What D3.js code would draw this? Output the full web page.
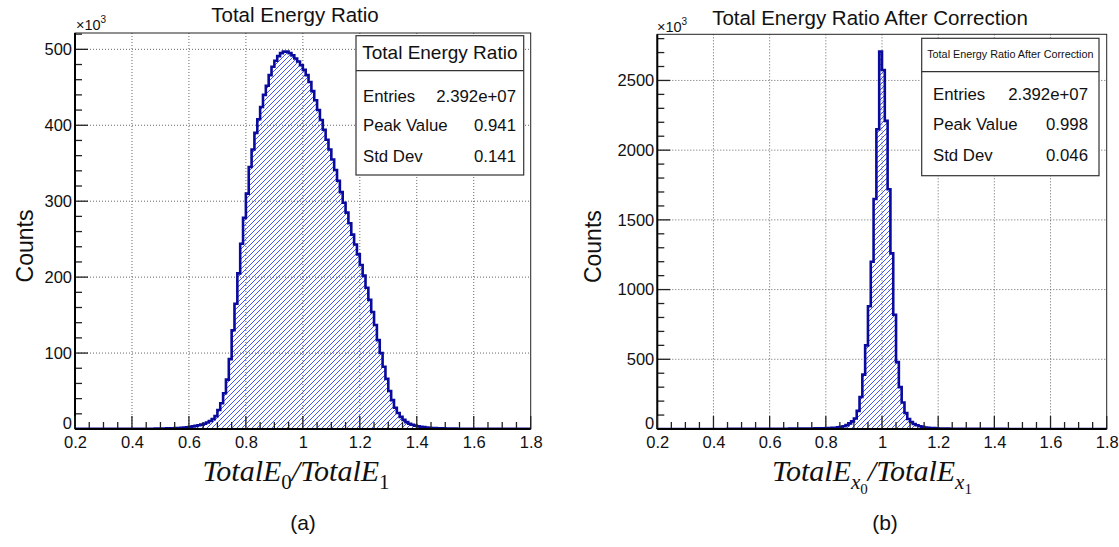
<!DOCTYPE html>
<html><head><meta charset="utf-8">
<script src="https://cdn.jsdelivr.net/npm/d3@7"></script>
<style>body{margin:0;background:#fff}svg{display:block}</style>
</head><body>
<svg id="c" width="1119" height="547"></svg>
<script>
// ---------------- data ----------------
const xMin = 0.2, xMax = 1.8;            // histogram range (160 bins of 0.01)
// counts in units of 10^3, bins from 0.20 to 1.80
const countsA = [
  0.1,0.1,0.1,0.1,0.1,0.1,0.1,0.1,0.1,0.1,
  0.1,0.1,0.15,0.15,0.15,0.2,0.2,0.2,0.2,0.25,
  0.25,0.3,0.3,0.3,0.35,0.35,0.4,0.4,0.45,0.5,
  0.6,0.7,0.8,0.9,1.0,1.2,1.4,1.7,2.0,2.4,
  2.9,3.4,4.1,4.9,5.8,7.0,8.5,10.5,13,17,
  25,34,47,65,92,130,165,205,244,278,
  310,345,368,390,408,424,440,452,466,477,
  485,491,495,497,497,495,492,488,484,479,
  473,466,457,445,433,420,407,394,381,368,
  355,341,327,312,298,285,271,256,243,230,
  216,202,186,170,154,137,117,100,82,66,
  50,38,28,21,16,12,9,7,5.5,4.5,
  3.7,3.0,2.5,2.0,1.7,1.4,1.2,1.0,0.9,0.8,
  0.7,0.6,0.5,0.45,0.4,0.35,0.3,0.3,0.25,0.25,
  0.2,0.2,0.2,0.15,0.15,0.15,0.1,0.1,0.1,0.1,
  0.1,0.1,0.1,0.1,0.1,0.1,0.1,0.1,0.1,0.1
];
const countsB = [
  0.2,0.2,0.2,0.2,0.2,0.2,0.2,0.2,0.2,0.2,
  0.2,0.2,0.25,0.25,0.25,0.3,0.3,0.3,0.35,0.35,
  0.4,0.4,0.45,0.5,0.5,0.55,0.6,0.65,0.7,0.75,
  0.8,0.85,0.9,1.0,1.05,1.1,1.2,1.3,1.4,1.5,
  1.6,1.7,1.8,1.9,2.0,2.1,2.2,2.4,2.5,2.7,
  2.9,3.1,3.3,3.5,3.7,4.0,4.3,4.6,5.0,5.4,
  6,7,8,9.5,12,15,20,28,40,55,
  75,130,230,390,600,880,1200,1650,2150,2707,
  2575,2210,1720,1260,820,480,300,190,115,72,
  50,36,27,20,15,11,9,7,6,5,
  3.8,3.3,2.9,2.6,2.3,2.1,1.9,1.7,1.6,1.5,
  1.4,1.3,1.2,1.1,1.0,0.95,0.9,0.85,0.8,0.75,
  0.7,0.65,0.6,0.55,0.5,0.5,0.45,0.45,0.4,0.4,
  0.35,0.35,0.35,0.35,0.35,0.3,0.3,0.3,0.3,0.3,
  0.3,0.25,0.25,0.25,0.25,0.25,0.2,0.2,0.2,0.2,
  0.2,0.2,0.2,0.2,0.2,0.2,0.2,0.2,0.2,0.2
];
const xTickValues = [0.2,0.4,0.6,0.8,1.0,1.2,1.4,1.6,1.8];
const xTickLabels = ["0.2","0.4","0.6","0.8","1","1.2","1.4","1.6","1.8"];
const yTicksA = [0,100,200,300,400,500];
const yTicksB = [0,500,1000,1500,2000,2500];
const titles = ["Total Energy Ratio","Total Energy Ratio After Correction"];
const statNames = ["Entries","Peak Value","Std Dev"];
const statValuesA = ["2.392e+07","0.941","0.141"];
const statValuesB = ["2.392e+07","0.998","0.046"];
const panelLetters = ["(a)","(b)"];
const yTitle = "Counts";

// ---------------- layout ----------------
const SANS = "'Liberation Sans', Arial, Helvetica, sans-serif";
const SERIF = "'Liberation Serif', 'Times New Roman', Times, serif";
const panels = [
  {counts: countsA, yTicks: yTicksA, yMax: 521.5, yMinor: 20, title: titles[0], stats: statValuesA, letter: panelLetters[0],
   x0: 75, x1: 530.7, y0: 33, y1: 429,
   titleX: 295, titleY: 22, titleSize: 20.5,
   box: {x: 356, y: 35.7, w: 167.7, h: 139.3, sep: 70.7, hdrSize: 19, hdrY: 58.5, rowY: [101.5,131,161.5], labX: 363, valX: 516},
   countsX: 33, expX: 76, expY: 30, xtitleX: 296, letterX: 303, sub: "ab"},
  {counts: countsB, yTicks: yTicksB, yMax: 2831, yMinor: 100, title: titles[1], stats: statValuesB, letter: panelLetters[1],
   x0: 657.3, x1: 1106.7, y0: 34.3, y1: 429,
   titleX: 870, titleY: 25, titleSize: 20.5,
   box: {x: 921.7, y: 38.3, w: 177.3, h: 137.4, sep: 71.7, hdrSize: 10.8, hdrY: 58, rowY: [99.5,129.5,161], labX: 933, valX: 1088},
   countsX: 601, expX: 657, expY: 32, xtitleX: 872, letterX: 885, sub: "x"}
];

const svg = d3.select("#c");
const defs = svg.append("defs");
const hw = 5;
const pat = defs.append("pattern").attr("id","hatch").attr("patternUnits","userSpaceOnUse")
  .attr("width",hw).attr("height",hw);
pat.append("path").attr("d",`M0,${hw} L${hw},0 M${-1},1 L1,${-1} M${hw-1},${hw+1} L${hw+1},${hw-1}`)
  .attr("stroke","#2f45ee").attr("stroke-width",0.9).attr("fill","none");

panels.forEach((p, pi) => {
  const g = svg.append("g");
  const x = d3.scaleLinear().domain([xMin, xMax]).range([p.x0, p.x1]);
  const y = d3.scaleLinear().domain([0, p.yMax]).range([p.y1, p.y0]);
  const nb = p.counts.length;
  const bw = (xMax - xMin) / nb;

  defs.append("clipPath").attr("id","clip"+pi).append("rect")
    .attr("x",p.x0).attr("y",p.y0).attr("width",p.x1-p.x0).attr("height",p.y1-p.y0);

  // grid
  g.append("g").selectAll("line").data(xTickValues.slice(1,-1)).join("line")
    .attr("x1",d=>x(d)).attr("x2",d=>x(d)).attr("y1",p.y0).attr("y2",p.y1)
    .attr("stroke","#666").attr("stroke-width",1).attr("stroke-dasharray","1,2");
  g.append("g").selectAll("line").data(p.yTicks.slice(1)).join("line")
    .attr("x1",p.x0).attr("x2",p.x1).attr("y1",d=>y(d)).attr("y2",d=>y(d))
    .attr("stroke","#666").attr("stroke-width",1).attr("stroke-dasharray","1,2");

  // histogram
  let d = `M${x(xMin)},${y(0)}`;
  p.counts.forEach((v, i) => {
    const lo = xMin + i*bw, hi = xMin + (i+1)*bw;
    d += ` L${x(lo)},${y(v)} L${x(hi)},${y(v)}`;
  });
  d += ` L${x(xMax)},${y(0)}`;
  const hg = g.append("g").attr("clip-path",`url(#clip${pi})`);
  hg.append("path").attr("d", d + " Z").attr("fill","url(#hatch)").attr("stroke","none");
  hg.append("path").attr("d", d).attr("fill","none").attr("stroke","#0a0a9c")
    .attr("stroke-width",2.6).attr("stroke-linejoin","miter");

  // frame
  g.append("rect").attr("x",p.x0).attr("y",p.y0).attr("width",p.x1-p.x0).attr("height",p.y1-p.y0)
    .attr("fill","none").attr("stroke","#222").attr("stroke-width",1);

  // y axis
  const yAxis = d3.axisLeft(y).tickValues(p.yTicks).tickFormat(d3.format("d")).tickSize(0).tickPadding(3);
  const ya = g.append("g").attr("transform",`translate(${p.x0},0)`).call(yAxis);
  ya.select(".domain").remove();
  ya.selectAll("text").attr("font-family",SANS).attr("font-size",16.5).attr("fill","#111")
    .attr("dy", dd => dd === 0 ? "-0.05em" : "0.32em");
  const yMinorVals = d3.range(0, p.yMax, p.yMinor);
  g.append("g").selectAll("line").data(yMinorVals).join("line")
    .attr("x1",p.x0).attr("x2",dd => p.x0 + (p.yTicks.includes(dd) ? 13 : 7))
    .attr("y1",dd=>y(dd)).attr("y2",dd=>y(dd)).attr("stroke","#222").attr("stroke-width",1.3);
  g.append("line").attr("x1",p.x0).attr("x2",p.x0).attr("y1",p.y0).attr("y2",p.y1)
    .attr("stroke","#000").attr("stroke-width",2);

  // x axis
  const xAxis = d3.axisBottom(x).tickValues(xTickValues).tickFormat((dd,i)=>xTickLabels[i]).tickSize(0).tickPadding(7);
  const xa = g.append("g").attr("transform",`translate(0,${p.y1})`).call(xAxis);
  xa.select(".domain").remove();
  xa.selectAll("text").attr("font-family",SANS).attr("font-size",16.5).attr("fill","#111");
  const xMinorVals = d3.range(0, 33).map(k => xMin + k*0.05);
  g.append("g").selectAll("line").data(xMinorVals).join("line")
    .attr("x1",dd=>x(dd)).attr("x2",dd=>x(dd)).attr("y1",p.y1)
    .attr("y2",(dd,k)=> p.y1 - (k%4===0 ? 13 : 7))
    .attr("stroke","#222").attr("stroke-width",1.3);
  g.append("line").attr("x1",p.x0).attr("x2",p.x1).attr("y1",p.y1).attr("y2",p.y1)
    .attr("stroke","#000").attr("stroke-width",2);

  // ×10^3
  const ex = g.append("text").attr("x",p.expX).attr("y",p.expY).attr("font-family",SANS).attr("font-size",14.5).attr("fill","#111");
  ex.append("tspan").text("×10");
  ex.append("tspan").attr("dy",-7).attr("font-size",10).text("3");

  // title
  g.append("text").attr("x",p.titleX).attr("y",p.titleY).attr("text-anchor","middle")
    .attr("font-family",SANS).attr("font-size",p.titleSize).attr("fill","#111").text(p.title);

  // y title
  g.append("text").attr("transform",`translate(${p.countsX},${(p.y0+p.y1)/2+15}) rotate(-90)`)
    .attr("text-anchor","middle").attr("font-family",SANS).attr("font-size",23).attr("fill","#111").text(yTitle);

  // x title
  const xt = g.append("text").attr("x",p.xtitleX).attr("y",481).attr("text-anchor","middle")
    .attr("font-family",SERIF).attr("font-size",30).attr("font-style","italic").attr("fill","#111");
  if (p.sub === "ab") {
    xt.append("tspan").text("TotalE");
    xt.append("tspan").attr("dy",8).attr("font-size",21).attr("font-style","normal").text("0");
    xt.append("tspan").attr("dy",-8).text("/TotalE");
    xt.append("tspan").attr("dy",8).attr("font-size",21).attr("font-style","normal").text("1");
  } else {
    xt.append("tspan").text("TotalE");
    xt.append("tspan").attr("dy",8).attr("font-size",21).text("x");
    xt.append("tspan").attr("dy",5).attr("font-size",15).attr("font-style","normal").text("0");
    xt.append("tspan").attr("dy",-13).text("/TotalE");
    xt.append("tspan").attr("dy",8).attr("font-size",21).text("x");
    xt.append("tspan").attr("dy",5).attr("font-size",15).attr("font-style","normal").text("1");
  }

  // panel letter
  g.append("text").attr("x",p.letterX).attr("y",530).attr("text-anchor","middle")
    .attr("font-family",SANS).attr("font-size",21).attr("fill","#111").text(p.letter);

  // stats box
  const b = p.box;
  g.append("rect").attr("x",b.x).attr("y",b.y).attr("width",b.w).attr("height",b.h)
    .attr("fill","#fff").attr("stroke","#333").attr("stroke-width",1.2);
  g.append("line").attr("x1",b.x).attr("x2",b.x+b.w).attr("y1",b.sep).attr("y2",b.sep)
    .attr("stroke","#333").attr("stroke-width",1.2);
  g.append("text").attr("x",b.x+b.w/2).attr("y",b.hdrY).attr("text-anchor","middle")
    .attr("font-family",SANS).attr("font-size",b.hdrSize).attr("fill","#111").text(p.title);
  statNames.forEach((n,i) => {
    g.append("text").attr("x",b.labX).attr("y",b.rowY[i]).attr("font-family",SANS).attr("font-size",16.8).attr("fill","#111").text(n);
    g.append("text").attr("x",b.valX).attr("y",b.rowY[i]).attr("text-anchor","end").attr("font-family",SANS).attr("font-size",16.8).attr("fill","#111").text(p.stats[i]);
  });
});
</script>
</body></html>
